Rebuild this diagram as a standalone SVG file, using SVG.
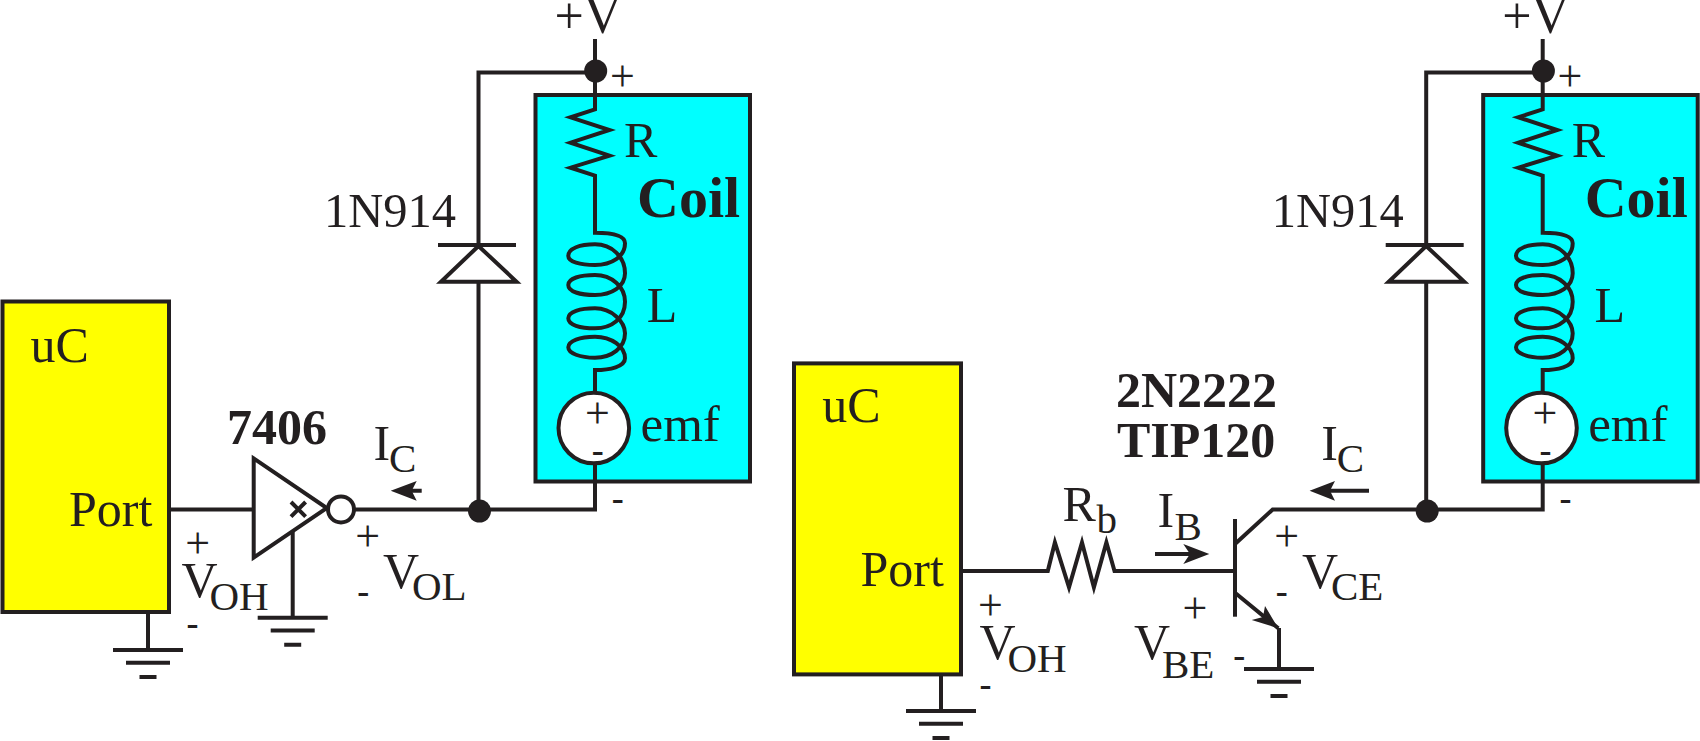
<svg xmlns="http://www.w3.org/2000/svg" xmlns:xlink="http://www.w3.org/1999/xlink" width="1700" height="741" viewBox="0 0 1700 741">
<style>
text{font-family:"Liberation Serif","Times New Roman",serif;font-size:50px;fill:#231f20}
.b{font-weight:bold}
.sub{font-size:41px}
.p{font-size:44px;text-anchor:middle}
.m{font-size:36px;font-weight:bold;text-anchor:middle}
.e{font-size:52px}
.coil{font-size:58px;font-weight:bold}
.w,.box,.sym{stroke:#231f20;stroke-width:4;stroke-linejoin:miter;fill:none}
.y{fill:#ffff00}.c{fill:#00ffff}.wf{fill:#fff}
.dot,.head{fill:#231f20;stroke:none}
</style>
<defs>
<path id="coilsym" class="sym" d="M595,93V109.3L570.5,117.3L609.5,130L570.5,142.7L609.5,155.7L570.5,167.7L595,175.7V232.7C611,232.7 625,235 625,243.3C625,256.7 611.7,265 595,265C580,265 568.3,261.7 568.3,256C568.3,248.3 580,244.3 595,244.3C611.7,244.3 625,256.7 625,273.3C625,286.7 611.7,295 595,295C580,295 568.3,291.7 568.3,285C568.3,278.3 580,275 595,275C611.7,275 625,286.7 625,301.7C625,318.3 611.7,328.3 595,328.3C580,328.3 568.3,325 568.3,318.3C568.3,311.7 580,308.3 595,308.3C611.7,308.3 625,321.7 625,333.3C625,347.7 611.7,357.7 595,357.7C580,357.7 568.3,353.3 568.3,347.3C568.3,340.7 580,336.7 595,336.7C611.7,336.7 625,346.7 625,358.3C625,366.7 610,370 595,370V392"/>
<g id="gnd" class="sym"><path d="M-35,0H35M-22,12.7H22M-8.5,27H8.5"/></g>
</defs>
<g id="uc-left"><rect class="box y" x="2.5" y="301.5" width="166.5" height="310.5"/><text x="30.5" y="361.5">uC</text><text x="69" y="525.5">Port</text></g>
<g id="coil-box-left"><rect class="box c" x="535.5" y="95" width="214.5" height="386.5"/></g>
<g id="uc-right"><rect class="box y" x="794" y="363.4" width="167" height="311"/><text x="822.3" y="422">uC</text><text x="860.5" y="586">Port</text></g>
<g id="coil-box-right"><rect class="box c" x="1483.2" y="95" width="214.5" height="386.5"/></g>
<g id="connectors">
<path class="w" d="M169,509.5H253.7"/>
<path class="w" d="M355,509.5H595V464"/>
<path class="w" d="M595,39V93"/>
<path class="w" d="M595,72.5H478.5V245M478.5,282V510"/>
<path class="w" d="M292.7,531.7V617.7"/>
<path class="w" d="M148,612V650"/>
<path class="w" d="M961,571H1047.8L1054.9,542.5L1069,587.4L1082,542.5L1093.9,587.4L1106.4,542.5L1114.5,571H1235"/>
<path class="w" d="M1235,544L1272.7,509.5H1542.7V464"/>
<path class="w" d="M1542.7,39V93"/>
<path class="w" d="M1542.7,72.5H1426.2V245M1426.2,282V510"/>
<path class="w" d="M1235,592.7L1278.3,628.3M1279,628V669"/>
<path class="w" d="M941,674V711"/>
<path class="w" d="M400,490.7H421.7M1325,490.7H1369M1155,554H1195"/>
<path class="head" d="M390.7,490.7L416.7,481L411.7,490.7L416.7,500.7ZM1309.6,490.7L1335,481L1330,490.7L1335,500.7ZM1209.3,554L1183.3,544L1190,554L1183.3,564ZM1278.3,628.3L1265,606L1263,617L1251.7,620Z"/>
</g>
<g id="coil-left">
<use xlink:href="#coilsym" href="#coilsym"/>
<circle class="sym wf" cx="593.8" cy="428" r="35.3"/>
<text x="624" y="156.7">R</text><text class="coil" x="637" y="217.4">Coil</text><text x="646.7" y="321.7">L</text><text x="640.5" y="440.7" style="font-size:51px">emf</text>
<text class="p" x="597.3" y="428.3">+</text><text class="m" x="597.7" y="462.2">-</text>
</g>
<g id="coil-right">
<use xlink:href="#coilsym" href="#coilsym" transform="translate(947.7,0)"/>
<circle class="sym wf" cx="1541.5" cy="428" r="35.3"/>
<text x="1571.7" y="156.7">R</text><text class="coil" x="1584.7" y="217.4">Coil</text><text x="1594.4" y="321.7">L</text><text x="1588.2" y="440.7" style="font-size:51px">emf</text>
<text class="p" x="1545" y="428.3">+</text><text class="m" x="1545.4" y="462.2">-</text>
</g>
<g id="diode-left"><path class="sym" d="M438,245H516M478.5,246L441,281.7H516.5Z"/><text x="324" y="226.5" style="font-size:48.5px">1N914</text></g>
<g id="diode-right"><path class="sym" d="M1385.7,245H1463.7M1426.2,246L1388.7,281.7H1464.2Z"/><text x="1271.7" y="226.5" style="font-size:48.5px">1N914</text></g>
<g id="supply-left"><circle class="dot" cx="595.7" cy="71" r="11.5"/><text class="e" x="554.5" y="33">+V</text><text class="p" x="622.3" y="91">+</text></g>
<g id="supply-right"><circle class="dot" cx="1543.4" cy="71" r="11.5"/><text class="e" x="1502.2" y="33">+V</text><text class="p" x="1570" y="91">+</text></g>
<g id="junction-left"><circle class="dot" cx="479.5" cy="511" r="11.5"/><text class="m" x="617.7" y="509.8">-</text></g>
<g id="junction-right"><circle class="dot" cx="1427.2" cy="511" r="11.5"/><text class="m" x="1565.4" y="509.8">-</text></g>
<g id="buffer-7406">
<path class="sym wf" d="M253.7,458.4V557.6L326.8,508Z"/>
<path class="sym" d="M291,502L305.6,516.6M305.6,502L291,516.6"/>
<circle class="sym wf" cx="341" cy="509.4" r="13"/>
<text class="b" x="227" y="444">7406</text>
</g>
<g id="gnd-1"><use xlink:href="#gnd" href="#gnd" x="148" y="650"/></g>
<g id="gnd-2"><use xlink:href="#gnd" href="#gnd" x="292.7" y="617.7"/></g>
<g id="gnd-3"><use xlink:href="#gnd" href="#gnd" x="941" y="711"/></g>
<g id="gnd-4"><use xlink:href="#gnd" href="#gnd" x="1279" y="669"/></g>
<g id="transistor">
<path class="sym" d="M1235,519V616.7"/>
<text class="b" x="1116" y="407.4">2N2222</text><text class="b" x="1117" y="456.5">TIP120</text>
</g>
<g id="labels">
<text x="373.5" y="460">I<tspan class="sub" x="389" y="472">C</tspan></text>
<text x="181.5" y="597">V<tspan class="sub" x="209.5" y="610">OH</tspan></text>
<text class="p" x="197.7" y="558.3">+</text><text class="m" x="192.4" y="634.5">-</text>
<text x="383" y="587.8">V<tspan class="sub" x="412" y="600">OL</tspan></text>
<text class="p" x="367.7" y="551">+</text><text class="m" x="363.3" y="602.8">-</text>
<text x="1321.2" y="460">I<tspan class="sub" x="1336.7" y="472">C</tspan></text>
<text x="1062.5" y="521">R<tspan class="sub" x="1096.6" y="532.6">b</tspan></text>
<text x="1157.4" y="527">I<tspan class="sub" x="1174.5" y="539.7">B</tspan></text>
<text x="979.5" y="658.5">V<tspan class="sub" x="1007.5" y="672">OH</tspan></text>
<text class="p" x="990.4" y="620">+</text><text class="m" x="985.5" y="695.5">-</text>
<text x="1302" y="587.8">V<tspan class="sub" x="1331" y="600">CE</tspan></text>
<text class="p" x="1286.7" y="551">+</text><text class="m" x="1281.7" y="602.8">-</text>
<text x="1134" y="658.5">V<tspan class="sub" x="1162" y="678">BE</tspan></text>
<text class="p" x="1195" y="623.3">+</text><text class="m" x="1239.3" y="666.5">-</text>
</g>
</svg>
